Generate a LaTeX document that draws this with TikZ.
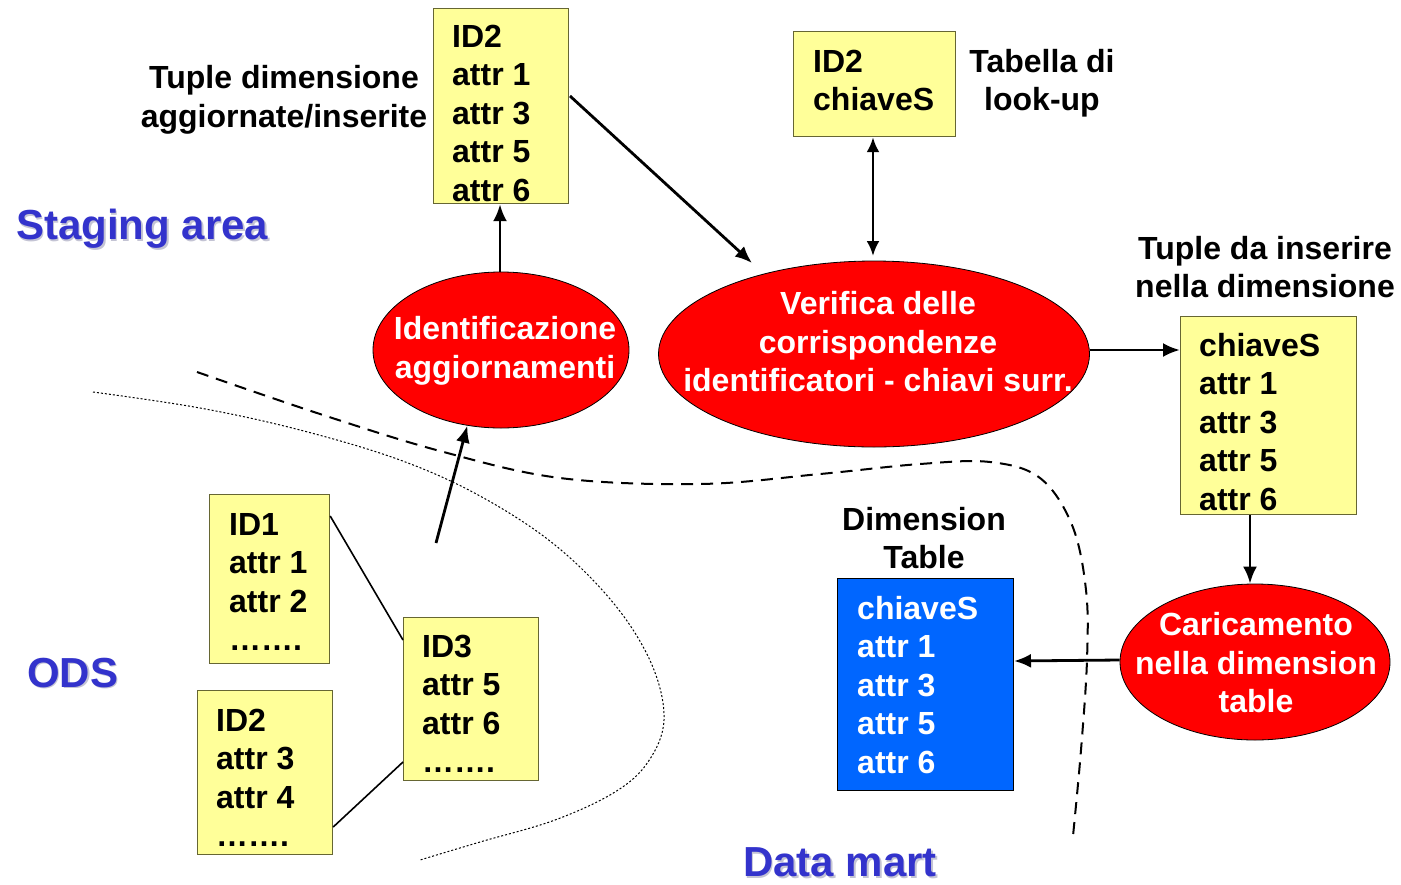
\documentclass[tikz,border=0pt]{standalone}
\usepackage{fontspec}
\setmainfont{Liberation Sans}
\usetikzlibrary{arrows.meta,shapes.geometric}
\definecolor{ybox}{HTML}{FFFF99}
\definecolor{yborder}{HTML}{666633}
\definecolor{bbox}{HTML}{0066FF}
\definecolor{lblue}{HTML}{3333CC}
\definecolor{shad}{HTML}{C4C4D4}
\tikzset{
  x=1pt,y=-1pt,
  txt/.style={font=\fontsize{32}{38.5}\selectfont\bfseries, inner sep=0pt},
  boxtxt/.style={txt, align=left, anchor=base west},
  yellowbox/.style={draw=yborder, line width=1.2pt, fill=ybox, anchor=north west, inner sep=0pt},
  bluebox/.style={draw=black, line width=1pt, fill=bbox, anchor=north west, inner sep=0pt},
  redell/.style={ellipse, draw=black, line width=0.8pt, fill=red, inner sep=0pt},
  elltxt/.style={txt, text=white, align=center},
  big/.style={font=\fontsize{42}{48}\selectfont\bfseries, text=lblue, inner sep=0pt, anchor=west},
  bigshadow/.style={font=\fontsize{42}{48}\selectfont\bfseries, text=shad, inner sep=0pt, anchor=west},
  arr/.style={line width=2.8pt, -{Latex[length=17pt,width=14pt]}},
  conn/.style={line width=1.6pt},
}
\begin{document}
\begin{tikzpicture}
\useasboundingbox (0,0) rectangle (1401,884);
% curves
\draw[line width=2pt, dash pattern=on 12pt off 8pt] plot[smooth, tension=0.6] coordinates {(197,372) (320,414) (440,451) (560,478) (700,484) (820,474) (920,464) (990,462) (1040,478) (1072,525) (1086,590) (1087,660) (1081,750) (1073,836)};
\draw[line width=1pt, dash pattern=on 2pt off 2pt] plot[smooth, tension=0.6] coordinates {(93,392) (200,408) (300,430) (400,460) (480,496) (555,545) (615,605) (652,665) (664,720) (648,762) (615,792) (555,820) (480,842) (420,860)};

% blue labels
\node[bigshadow] (sas) at (17.5,230.5) {Staging area};
\node[big] (sa) at (16,229) {Staging area};
\node[bigshadow] (odss) at (28.5,674.5) {ODS};
\node[big] (ods) at (27,673) {ODS};
\node[bigshadow] (dms) at (744.5,864) {Data mart};
\node[big] (dm) at (743,862.5) {Data mart};

% boxes
\node[yellowbox, minimum width=135, minimum height=195] (tupd) at (433,8) {};
\node[boxtxt] (tupdt) at (452,201) {ID2\\attr 1\\attr 3\\attr 5\\attr 6};
\node[yellowbox, minimum width=162, minimum height=105] (lookup) at (793,31) {};
\node[boxtxt] (lookupt) at (813,110.5) {ID2\\chiaveS};
\node[yellowbox, minimum width=176, minimum height=198] (tins) at (1180,316) {};
\node[boxtxt] (tinst) at (1199,510) {chiaveS\\attr 1\\attr 3\\attr 5\\attr 6};
\node[bluebox, minimum width=176, minimum height=212] (dimt) at (837,578) {};
\node[boxtxt, text=white] (dimtt) at (857,773) {chiaveS\\attr 1\\attr 3\\attr 5\\attr 6};
\node[yellowbox, minimum width=120, minimum height=169] (id1) at (209,494) {};
\node[boxtxt] (id1t) at (229,650.5) {ID1\\attr 1\\attr 2\\…….};
\node[yellowbox, minimum width=135, minimum height=164] (id2) at (197,690) {};
\node[boxtxt] (id2t) at (216,846.5) {ID2\\attr 3\\attr 4\\…….};
\node[yellowbox, minimum width=135, minimum height=163] (id3) at (403,617) {};
\node[boxtxt] (id3t) at (422,772.5) {ID3\\attr 5\\attr 6\\…….};

% labels
\node[txt, align=center] (ltupd) at (284,100) {Tuple dimensione\\aggiornate/inserite};
\node[txt, align=center] (llook) at (1042,83) {Tabella di\\look-up};
\node[txt, align=center] (ltins) at (1265,267) {Tuple da inserire\\nella dimensione};
\node[txt, align=center] (ldimt) at (924,538) {Dimension\\Table};

% ellipses
\node[redell, minimum width=256, minimum height=156] (ident) at (501,350) {};
\node[elltxt] (identt) at (505,351) {Identificazione\\aggiornamenti};
\node[redell, minimum width=431, minimum height=186] (verif) at (874,354) {};
\node[elltxt] (veritt) at (878,342) {Verifica delle\\corrispondenze\\identificatori - chiavi surr.};
\node[redell, minimum width=270, minimum height=156] (caric) at (1255,662) {};
\node[elltxt] (carict) at (1256,663) {Caricamento\\nella dimension\\table};

% connectors
\coordinate (s1) at (436,543);
\coordinate (s2) at (570,96);
\coordinate (e2) at (752,263);
\coordinate (e3) at (873,256);
\draw[conn] (id1.north east |- 0,516) -- (id3.west |- 0,640);
\draw[conn] (id2.east |- 0,827) -- (id3.west |- 0,762);
\draw[arr] (s1) -- (ident.246);
\draw[arr] (ident.north -| 500,0) -- (tupd.south -| 500,0);
\draw[arr] (s2) -- (e2);
\draw[line width=2.8pt, {Latex[length=15pt,width=13pt]}-{Latex[length=15pt,width=13pt]}] (lookup.south -| e3) -- (e3);
\draw[arr] (verif.east |- 0,350) -- (tins.west |- 0,350);
\draw[arr] (tins.south -| 1250,0) -- (caric.north -| 1250,0);
\draw[arr] (caric.west |- 0,660) -- (dimt.east |- 0,661);
\end{tikzpicture}
\end{document}
